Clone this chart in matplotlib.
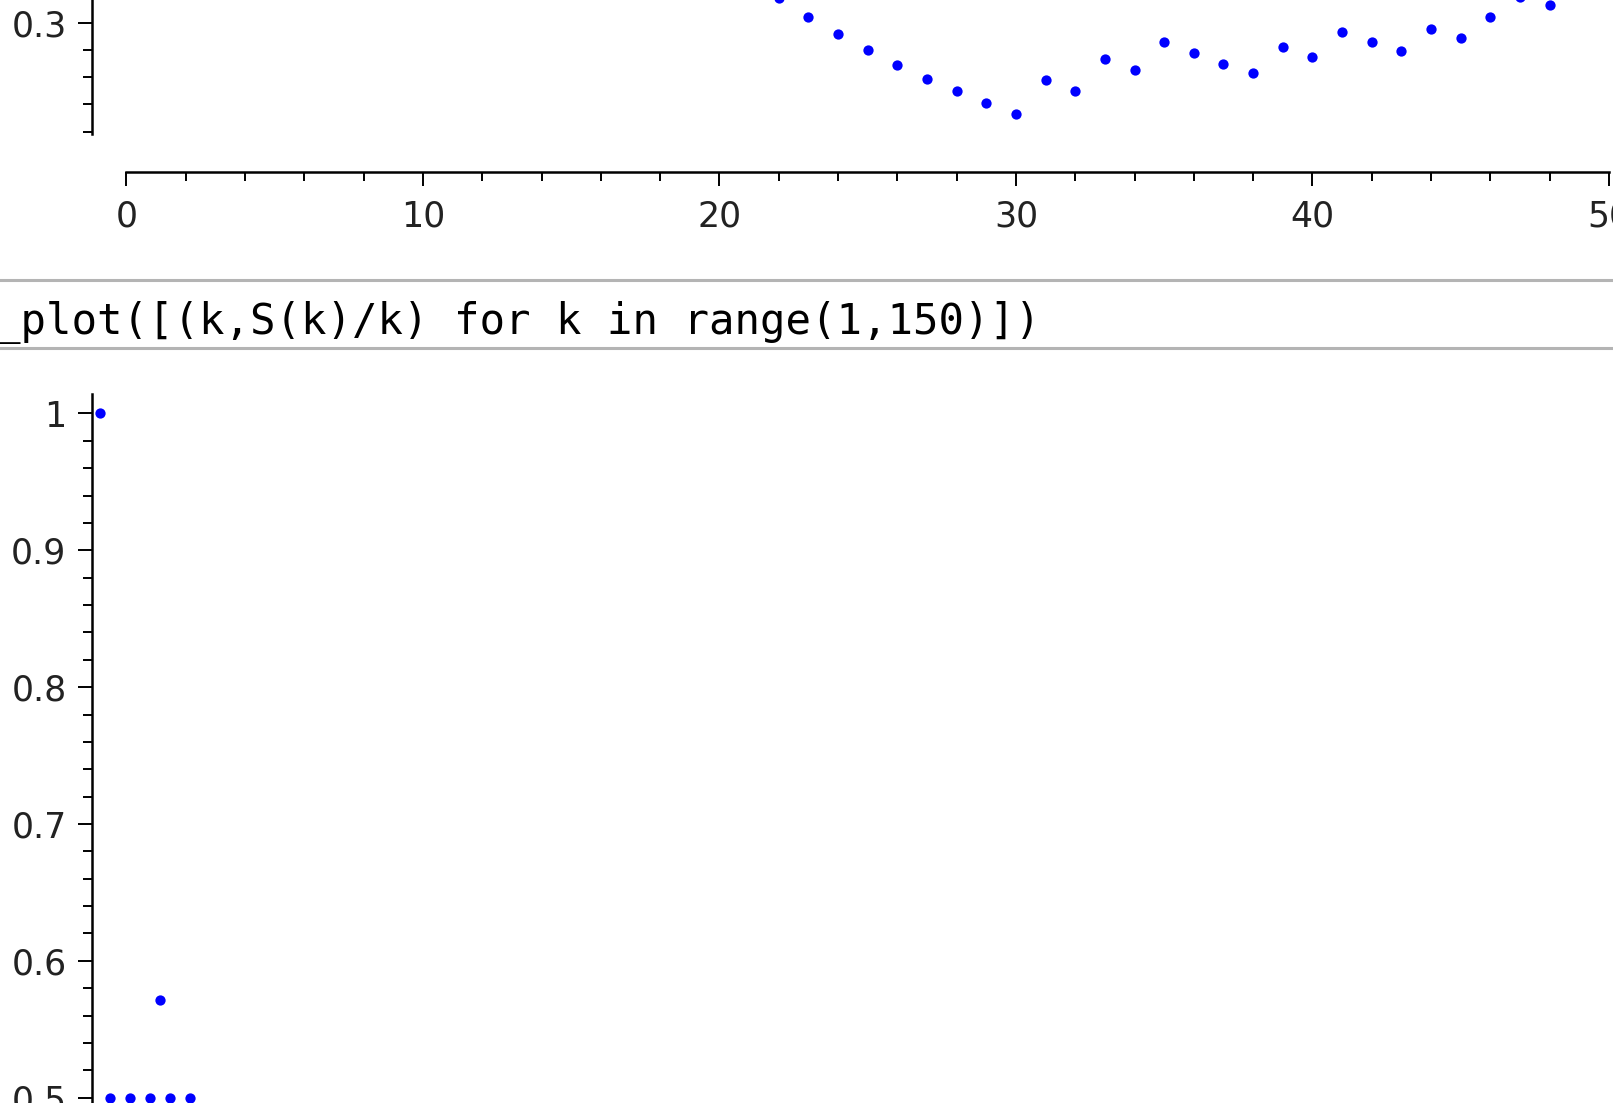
"""Sage notebook screenshot: S(k)/k point plots with the code cell between them"""

import matplotlib
matplotlib.use("Agg")
import matplotlib.pyplot as plt
from matplotlib.ticker import FixedLocator, FuncFormatter

# upper plot, visible part only (k = 22..48)
upper_k = list(range(22, 49))
upper_ratio = [0.318, 0.304, 0.292, 0.280, 0.269, 0.259, 0.250, 0.241, 0.233,
               0.258, 0.250, 0.273, 0.265, 0.286, 0.278, 0.270, 0.263, 0.282,
               0.275, 0.293, 0.286, 0.279, 0.295, 0.289, 0.304, 0.319, 0.313]

# lower plot, visible part only
lower_k = [1, 2, 4, 6, 7, 8, 10]
lower_ratio = [1.0, 0.5, 0.5, 0.5, 0.571, 0.5, 0.5]

upper_xticks = [0, 10, 20, 30, 40, 50]
upper_yticks = [0.3]
lower_yticks = [0.5, 0.6, 0.7, 0.8, 0.9, 1.0]
code_text = "_plot([(k,S(k)/k) for k in range(1,150)])"

W, H = 1613, 1103
DPI = 100
BLUE = (0, 0, 1)
LABEL = "#222222"


def px_axes(fig, left, top, right, bottom):
    return fig.add_axes([left / W, 1 - bottom / H, (right - left) / W, (bottom - top) / H])


def fmt(v, _pos=None):
    s = f"{v:.1f}"
    return s[:-2] if s.endswith(".0") else s


def sage_style(ax):
    for side in ("top", "right"):
        ax.spines[side].set_visible(False)
    for sp in ax.spines.values():
        sp.set_linewidth(1.8)
    ax.tick_params(which="major", length=10, width=1.4, labelsize=25,
                   labelcolor=LABEL, pad=8)
    ax.tick_params(which="minor", length=6.5, width=1.4)
    ax.yaxis.set_major_formatter(FuncFormatter(fmt))
    ax.set_facecolor("none")


fig = plt.figure(figsize=(W / DPI, H / DPI), dpi=DPI)

# ---- upper plot ----
ax1 = px_axes(fig, 91.6, 0, W, 172)
sage_style(ax1)
ax1.set_xlim(-1.177, 50.138)
ax1.set_ylim(0.1905, 0.3166)
ax1.spines["left"].set_bounds(0.2185, 0.3166)
ax1.spines["bottom"].set_bounds(0, 50)
ax1.xaxis.set_major_locator(FixedLocator(upper_xticks))
ax1.xaxis.set_minor_locator(FixedLocator([x for x in range(0, 51, 2) if x % 10]))
ax1.yaxis.set_major_locator(FixedLocator(upper_yticks))
ax1.yaxis.set_minor_locator(FixedLocator([0.22, 0.24, 0.26, 0.28]))
ax1.tick_params(axis="x", which="major", pad=9.5)
ax1.plot(upper_k, upper_ratio, "o", color=BLUE, ms=7.4, mew=0, clip_on=False)

# ---- code cell ----
fig.add_artist(plt.Line2D([0, 1], [1 - 280 / H] * 2, color="#b4b4b4", lw=2.2))
fig.add_artist(plt.Line2D([0, 1], [1 - 348 / H] * 2, color="#b4b4b4", lw=2.2))
fig.text(-5 / W, 1 - 323 / H, code_text, family="DejaVu Sans Mono", fontsize=30.5,
         color="black", va="center", ha="left")

# ---- lower plot ----
ax2 = px_axes(fig, 91.6, 394, W, H)
sage_style(ax2)
ax2.spines["bottom"].set_visible(False)
ax2.set_xlim(0.18, 152.3)
ax2.set_ylim(0.49605, 1.01425)
ax2.set_xticks([])
ax2.yaxis.set_major_locator(FixedLocator(lower_yticks))
ax2.yaxis.set_minor_locator(FixedLocator(
    [round(0.5 + 0.02 * i, 2) for i in range(26) if i % 5]))
ax2.plot(lower_k, lower_ratio, "o", color=BLUE, ms=7.4, mew=0, clip_on=False)

fig.savefig("out.png", dpi=DPI)
